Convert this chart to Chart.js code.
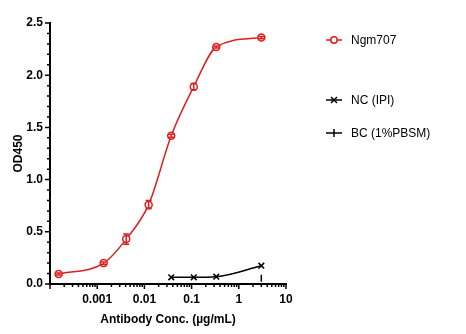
<!DOCTYPE html>
<html>
<head>
<meta charset="utf-8">
<script src="https://cdn.jsdelivr.net/npm/chart.js@4/dist/chart.umd.min.js"></script>
<style>
html,body{margin:0;padding:0;background:#fff;}
canvas{display:block;}
</style>
</head>
<body>
<canvas id="c" width="466" height="334"></canvas>
<script>
// ---- data ----
const seriesNames = ['Ngm707', 'NC (IPI)', 'BC (1%PBSM)'];
const concNgm = [0.000152, 0.00137, 0.00412, 0.0123, 0.037, 0.111, 0.333, 3];
const odNgm   = [0.096, 0.20, 0.43, 0.76, 1.42, 1.89, 2.27, 2.36];
const errNgm  = [0.01, 0.01, 0.05, 0.04, 0.015, 0.03, 0.01, 0.01];
const concNC  = [0.037, 0.111, 0.333, 3];
const odNC    = [0.064, 0.064, 0.07, 0.175];
const concBC  = [3];
const odBC    = [0.055];
const xTickLabels = [0.001, 0.01, 0.1, 1, 10];
const yTickLabels = [0, 0.5, 1.0, 1.5, 2.0, 2.5];

const RED = 'rgb(222,30,30)';
const BLACK = '#000';

function pts(xs, ys){ return xs.map((x,i)=>({x:x, y:ys[i]})); }

Chart.defaults.font.family = 'Arial, "Liberation Sans", sans-serif';
Chart.defaults.color = '#000';

const axisTicks = {
  id: 'axisTicks',
  afterDraw(chart){
    const ctx = chart.ctx;
    const xs = chart.scales.x, ys = chart.scales.y;
    const a = chart.chartArea;
    ctx.save();
    ctx.strokeStyle = '#000';
    ctx.lineWidth = 1.5;
    ctx.beginPath();
    for (let e = -4; e <= 1; e++){
      for (let m = 1; m <= 9; m++){
        const v = m * Math.pow(10, e);
        if (v > 10.0001) break;
        const px = xs.getPixelForValue(v);
        const len = (m === 1) ? 5 : 3;
        ctx.moveTo(px, a.bottom);
        ctx.lineTo(px, a.bottom + len);
      }
    }
    for (let i = 0; i <= 25; i++){
      const v = i / 10;
      const py = ys.getPixelForValue(v);
      const len = (i % 5 === 0) ? 5 : 3;
      ctx.moveTo(a.left, py);
      ctx.lineTo(a.left - len, py);
    }
    ctx.stroke();
    ctx.restore();
  }
};

const errorBars = {
  id: 'errorBars',
  afterDatasetsDraw(chart){
    const ctx = chart.ctx;
    const xs = chart.scales.x, ys = chart.scales.y;
    ctx.save();
    ctx.strokeStyle = RED;
    ctx.lineWidth = 1.5;
    ctx.beginPath();
    concNgm.forEach((c, i) => {
      const px = xs.getPixelForValue(c);
      const top = ys.getPixelForValue(odNgm[i] + errNgm[i]);
      const bot = ys.getPixelForValue(odNgm[i] - errNgm[i]);
      ctx.moveTo(px, top); ctx.lineTo(px, bot);
      ctx.moveTo(px - 3, top); ctx.lineTo(px + 3, top);
      ctx.moveTo(px - 3, bot); ctx.lineTo(px + 3, bot);
    });
    ctx.stroke();
    ctx.restore();
  }
};

const customLegend = {
  id: 'customLegend',
  afterDraw(chart){
    const ctx = chart.ctx;
    const items = [
      {name: seriesNames[0], y: 40, color: RED, style: 'circle'},
      {name: seriesNames[1], y: 100, color: BLACK, style: 'cross'},
      {name: seriesNames[2], y: 133, color: BLACK, style: 'bar'}
    ];
    ctx.save();
    items.forEach(it => {
      const x0 = 326, x1 = 342, cx = 334;
      ctx.strokeStyle = it.color;
      ctx.lineWidth = 1.5;
      ctx.beginPath();
      ctx.moveTo(x0, it.y); ctx.lineTo(x1, it.y);
      ctx.stroke();
      ctx.beginPath();
      if (it.style === 'circle'){
        ctx.fillStyle = '#fff';
        ctx.arc(cx, it.y, 3.2, 0, Math.PI*2);
        ctx.fill();
        ctx.stroke();
      } else if (it.style === 'cross'){
        ctx.moveTo(cx-3, it.y-3); ctx.lineTo(cx+3, it.y+3);
        ctx.moveTo(cx-3, it.y+3); ctx.lineTo(cx+3, it.y-3);
        ctx.stroke();
      } else {
        ctx.moveTo(cx, it.y-4); ctx.lineTo(cx, it.y+4);
        ctx.stroke();
      }
      ctx.fillStyle = '#000';
      ctx.font = '12px Arial, "Liberation Sans", sans-serif';
      ctx.textBaseline = 'middle';
      ctx.textAlign = 'left';
      ctx.fillText(it.name, 351, it.y + 0.5);
    });
    ctx.restore();
  }
};

new Chart(document.getElementById('c'), {
  type: 'line',
  data: {
    datasets: [
      {
        label: seriesNames[0],
        data: pts(concNgm, odNgm),
        borderColor: RED,
        backgroundColor: '#fff',
        borderWidth: 1.5,
        pointStyle: 'circle',
        pointRadius: 3.5,
        pointBorderWidth: 1.5,
        pointBorderColor: RED,
        cubicInterpolationMode: 'monotone',
        clip: false
      },
      {
        label: seriesNames[1],
        data: pts(concNC, odNC),
        borderColor: BLACK,
        backgroundColor: BLACK,
        borderWidth: 1.5,
        pointStyle: 'crossRot',
        pointRadius: 4,
        pointBorderWidth: 1.5,
        cubicInterpolationMode: 'monotone',
        clip: false
      },
      {
        label: seriesNames[2],
        data: pts(concBC, odBC),
        borderColor: BLACK,
        backgroundColor: BLACK,
        borderWidth: 1.5,
        showLine: false,
        pointStyle: 'line',
        pointRotation: 90,
        pointRadius: 3.5,
        pointBorderWidth: 1.5,
        clip: false
      }
    ]
  },
  options: {
    responsive: false,
    animation: false,
    devicePixelRatio: 1,
    layout: { padding: { left: 0, top: 23, right: 180, bottom: 0 } },
    plugins: { legend: { display: false }, tooltip: { enabled: false } },
    scales: {
      x: {
        type: 'logarithmic',
        min: 0.0001,
        max: 10,
        afterBuildTicks(s){ s.ticks = xTickLabels.map(v => ({value: v, major: true})); },
        afterFit(s){ s.height = 50; },
        grid: { display: false, drawTicks: false },
        border: { display: true, color: '#000', width: 2 },
        ticks: {
          padding: 8,
          maxRotation: 0,
          autoSkip: false,
          font: { size: 12, weight: 'bold' },
          callback(v){ return String(v); }
        },
        title: {
          display: true,
          text: 'Antibody Conc. (µg/mL)',
          font: { size: 12, weight: 'bold' },
          padding: { top: 6, bottom: 7 }
        }
      },
      y: {
        type: 'linear',
        min: 0,
        max: 2.5,
        afterBuildTicks(s){ s.ticks = yTickLabels.map(v => ({value: v})); },
        afterFit(s){ s.width = 50; },
        grid: { display: false, drawTicks: false },
        border: { display: true, color: '#000', width: 2 },
        ticks: {
          padding: 7,
          font: { size: 12, weight: 'bold' },
          callback(v){ return Number(v).toFixed(1); }
        },
        title: {
          display: true,
          text: 'OD450',
          font: { size: 12, weight: 'bold' },
          padding: { top: 11, bottom: 0 }
        }
      }
    }
  },
  plugins: [axisTicks, errorBars, customLegend]
});
</script>
</body>
</html>
